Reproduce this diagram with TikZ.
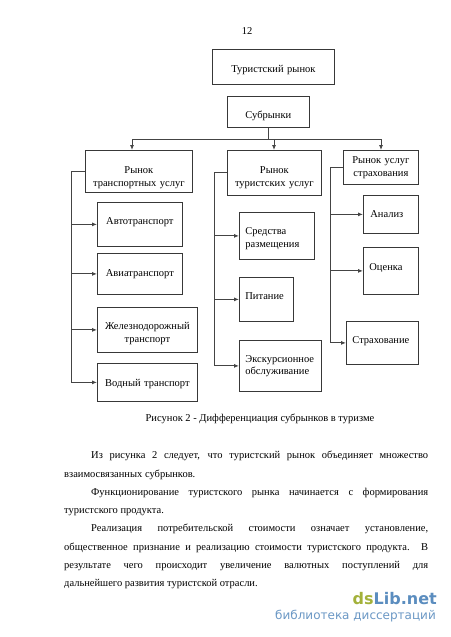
\documentclass[tikz,border=0pt]{standalone}
\usepackage{fontspec}
\setmainfont{Liberation Serif}
\newfontfamily\wmfont{DejaVu Sans}
\usetikzlibrary{arrows.meta}
\definecolor{boxcol}{HTML}{383838}
\definecolor{linecol}{HTML}{444444}
\definecolor{wmgreen}{HTML}{A3B13A}
\definecolor{wmblue}{HTML}{5B8DBF}
\begin{document}
\begin{tikzpicture}[x=1pt,y=-1pt,
  fnt/.style={font=\fontsize{10.5}{12.5}\selectfont},
  box/.style={fnt, draw=boxcol, line width=0.8pt, inner ysep=0pt, anchor=north west},
  cbox/.style={box, inner xsep=2pt, align=center},
  lbox/.style={box, inner xsep=6pt, align=left},
  tx/.style 2 args={text height=#1pt, text depth=#2pt},
  conn/.style={draw=linecol, line width=0.85pt},
  arr/.style={conn, -{Latex[length=5pt,width=4pt]}},
  txt/.style={fnt, inner sep=0pt, text height=7.2pt, text depth=2.3pt},
  para/.style={txt, anchor=west}
]
\useasboundingbox (0,0) rectangle (450,637);
\fill[white] (0,0) rectangle (450,637);

\node[txt] (pg) at (247,32) {12};

% top
\node[cbox, text width=118pt, minimum height=35pt, tx={13.2}{2.3}] (t0) at (212,49) {Туристский рынок};
\node[cbox, text width=78pt, minimum height=31pt, tx={16.2}{2.3}] (sub) at (227,96) {Субрынки};

% second level
\node[cbox, text width=103pt, minimum height=42pt, tx={19.2}{14.8}] (t1) at (85,150) {Рынок\\транспортных услуг};
\node[cbox, text width=90pt, minimum height=45pt, tx={16.2}{14.8}] (t2) at (227,150) {Рынок\\туристских услуг};
\node[cbox, text width=71pt, minimum height=34pt, tx={7.2}{14.8}] (t3) at (343,150) {Рынок услуг\\страхования};

% transport children
\node[cbox, text width=81pt, minimum height=44pt, tx={7.2}{6.3}] (c1) at (97,202) {Автотранспорт};
\node[cbox, text width=81pt, minimum height=41pt, tx={7.2}{2.3}] (c2) at (97,253) {Авиатранспорт};
\node[cbox, text width=96pt, minimum height=45pt, tx={14.2}{14.8}] (c3) at (97,307) {Железнодорожный\\транспорт};
\node[cbox, text width=96pt, minimum height=38pt, tx={11.2}{2.3}] (c4) at (97,363) {Водный транспорт};

% tourist children
\node[lbox, text width=63pt, minimum height=47pt, tx={12.2}{14.8}] (d1) at (239,212) {Средства\\размещения};
\node[lbox, text width=42pt, minimum height=44pt, tx={7.2}{6.3}] (d2) at (239,277) {Питание};
\node[lbox, text width=70pt, minimum height=51pt, tx={7.2}{14.8}] (d3) at (239,340) {Экскурсионное\\обслуживание};

% insurance children
\node[lbox, inner xsep=7pt, text width=41pt, minimum height=38pt, tx={9.2}{2.3}] (e1) at (363,195) {Анализ};
\node[lbox, inner xsep=6pt, text width=43pt, minimum height=47pt, tx={7.2}{7.3}] (e2) at (363,247) {Оценка};
\node[lbox, text width=60pt, minimum height=43pt, tx={7.2}{5.3}] (e3) at (346,321) {Страхование};

% top connectors
\coordinate (h0) at (268,139);
\coordinate (j1) at (132,139);
\coordinate (j2) at (274,139);
\coordinate (j3) at (381,139);
\draw[conn] (sub.south -| h0) -- (h0);
\draw[conn] (j1) -- (j3);
\draw[arr] (j1) -- (j1 |- t1.north);
\draw[arr] (j2) -- (j2 |- t2.north);
\draw[arr] (j3) -- (j3 |- t3.north);

% buses
\coordinate (b1) at (71,0);
\coordinate (b2) at (214,0);
\coordinate (b3) at (330,0);
\draw[conn] (t1.west) -| (b1 |- c4.west);
\foreach \n in {c1,c2,c3,c4} \draw[arr] (b1 |- \n.west) -- (\n.west);
\draw[conn] (t2.west) -| (b2 |- d3.west);
\foreach \n in {d1,d2,d3} \draw[arr] (b2 |- \n.west) -- (\n.west);
\draw[conn] (t3.west) -| (b3 |- e3.west);
\foreach \n in {e1,e2,e3} \draw[arr] (b3 |- \n.west) -- (\n.west);

% caption
\node[txt] (cap) at (260,419) {Рисунок 2 - Дифференциация субрынков в туризме};

% paragraphs
\node[para] (l1) at (91,456) {\makebox[337pt][s]{Из рисунка 2 следует, что туристский рынок объединяет множество}};
\node[para] (l2) at (64,475) {взаимосвязанных субрынков.};
\node[para] (l3) at (91,493) {\makebox[337pt][s]{Функционирование туристского рынка начинается с формирования}};
\node[para] (l4) at (64,511) {туристского продукта.};
\node[para] (l5) at (91,529) {\makebox[337pt][s]{Реализация потребительской стоимости означает установление,}};
\node[para] (l6) at (64,548) {\makebox[364pt][s]{общественное признание и реализацию стоимости туристского продукта. В}};
\node[para] (l7) at (64,566) {\makebox[364pt][s]{результате чего происходит увеличение валютных поступлений для}};
\node[para] (l8) at (64,584) {дальнейшего развития туристской отрасли.};

% watermark
\node[inner sep=0pt, anchor=east, font=\wmfont\bfseries\fontsize{16}{16}\selectfont] (wm1) at (437,599) {\textcolor{wmgreen}{ds}\textcolor{wmblue}{Lib.net}};
\node[inner sep=0pt, anchor=east, text=wmblue!90, font=\wmfont\fontsize{12}{12}\selectfont] (wm2) at (436,616) {библиотека диссертаций};
\end{tikzpicture}
\end{document}
